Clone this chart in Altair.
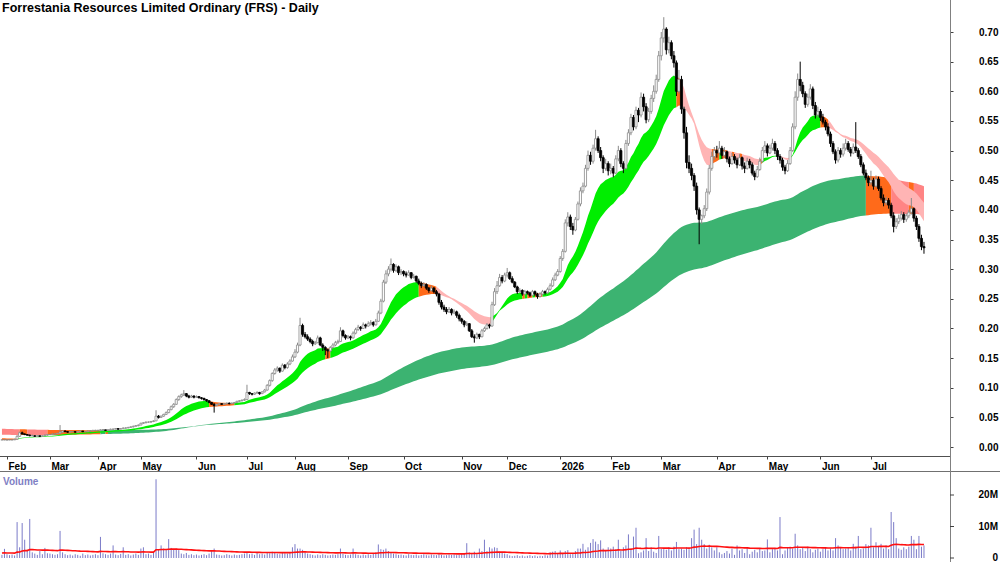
import altair as alt
import pandas as pd

TITLE = "Forrestania Resources Limited Ordinary (FRS) - Daily"

# ---- daily bars, price in units of 0.001 AUD: [open, high, low, close] ----
jan25 = [[12,12,12,12],[12,13,12,12]]
feb25 = [[12,12,11,12],[12,13,12,12],[12,12,12,12],[12,14,12,13],[13,20,13,18],[18,26,17,24],[24,26,21,22],
         [22,23,20,21],[21,22,19,20],[20,21,18,19],[19,21,18,19],[19,20,17,18],[18,20,18,19],[19,19,17,18],
         [18,20,18,19],[19,21,19,20],[20,22,19,21]]
mar25 = [[21,22,20,21],[21,23,21,22],[22,23,21,22],[22,24,22,23],[23,37,23,25],[25,28,24,27],[27,28,25,26],
         [26,27,24,25],[25,27,25,26],[26,27,25,26],[26,26,24,25],[25,27,25,26],[26,28,26,27],[27,27,25,26],
         [26,27,25,26],[26,28,26,27],[27,28,26,27],[27,29,27,28],[28,29,27,28]]
apr25 = [[28,29,27,28],[28,30,28,29],[29,30,28,29],[29,29,27,28],[28,30,28,29],[29,31,29,30],[30,31,29,30],
         [30,32,30,31],[31,31,29,30],[30,32,30,31],[31,33,31,32],[32,33,31,32],[32,34,32,33],[33,35,33,34],
         [34,36,33,35],[35,37,35,36],[36,38,35,37]]
may25 = [[37,41,37,40],[40,42,39,41],[41,43,40,42],[42,43,41,42],[42,44,41,43],[43,45,42,44],[44,62,44,52],
         [52,54,48,50],[50,53,49,52],[52,56,51,55],[55,60,54,58],[58,64,57,63],[63,70,62,68],[68,74,66,72],
         [72,82,71,80],[80,87,78,85],[85,90,83,88],[88,96,86,90],[90,91,84,86],[86,88,82,84],[84,88,83,86],
         [86,87,82,84]]
jun25 = [[84,87,83,85],[85,86,82,83],[83,84,80,82],[82,83,78,80],[80,81,76,78],[78,79,74,75],[75,76,71,72],
         [72,74,58,70],[70,73,69,72],[72,74,71,73],[73,74,71,72],[72,74,72,73],[73,75,72,74],[74,75,72,73],
         [73,75,73,74],[74,76,73,75],[75,78,74,77],[77,79,76,78],[78,80,77,79],[79,82,78,80]]
jul25 = [[80,105,80,92],[92,93,88,90],[90,91,87,89],[89,92,88,91],[91,94,90,92],[92,93,88,90],[90,94,90,93],
         [93,98,92,96],[96,106,95,104],[104,114,102,112],[112,126,110,124],[124,133,122,130],[130,136,127,133],
         [133,134,125,128],[128,141,127,138],[138,140,131,134],[134,143,132,140],[140,148,138,145],[145,156,144,152]]
aug25 = [[152,165,150,160],[160,176,158,172],[172,218,170,205],[205,208,186,190],[190,194,183,186],
         [186,190,179,182],[182,185,175,178],[178,181,170,174],[174,179,172,176],[176,188,175,184],
         [184,186,170,172],[172,175,162,168],[168,170,155,164],[164,166,150,162],[162,170,160,168],
         [168,175,166,172],[172,179,170,176],[176,181,174,178],[178,202,177,196],[196,198,185,188],[188,190,181,184]]
sep25 = [[184,189,182,186],[186,188,180,184],[184,195,183,192],[192,201,190,198],[198,206,196,202],
         [202,204,196,200],[200,210,199,206],[206,208,200,204],[204,212,203,208],[208,214,205,210],
         [210,212,203,206],[206,216,205,212],[212,230,211,226],[226,250,224,246],[246,282,244,278],
         [278,298,275,292],[292,305,288,300],[300,318,296,308],[308,310,294,298],[298,308,295,304],
         [304,306,290,294],[294,300,290,296]]
oct25 = [[296,298,288,292],[292,296,286,290],[290,298,289,294],[294,295,283,286],[286,292,284,288],
         [288,289,277,280],[280,284,273,276],[276,279,268,272],[272,278,270,274],[274,276,265,268],
         [268,270,260,264],[264,272,262,268],[268,270,259,262],[262,265,254,258],[258,260,240,244],
         [244,248,232,236],[236,240,228,232],[232,236,224,228],[228,236,226,232],[232,234,222,226],
         [226,232,224,228],[228,230,218,222],[222,225,212,216]]
nov25 = [[216,218,208,212],[212,214,202,206],[206,212,204,208],[208,209,194,196],[196,199,184,186],
         [186,190,176,184],[184,193,182,190],[190,191,182,186],[186,199,185,196],[196,203,194,200],
         [200,209,198,206],[206,208,200,204],[204,245,203,240],[240,268,238,262],[262,280,258,272],
         [272,292,270,286],[286,290,276,280],[280,294,278,290]]
dec25 = [[290,302,286,294],[294,296,282,284],[284,288,276,278],[278,280,268,270],[270,272,258,262],
         [262,268,260,264],[264,266,255,258],[258,265,256,262],[262,264,257,260],[260,262,253,256],
         [256,265,255,262],[262,264,255,258],[258,260,250,254],[254,261,252,258],[258,265,256,262],
         [262,264,257,260],[260,269,258,266],[266,276,264,272],[272,286,270,282],[282,294,280,290],[290,300,288,296]]
jan26 = [[296,322,294,318],[318,334,314,330],[330,384,328,378],[378,396,372,388],[388,392,366,372],
         [372,378,358,366],[366,388,364,384],[384,414,382,410],[410,438,406,432],[432,446,428,440],
         [440,476,438,470],[470,500,466,492],[492,498,476,482],[482,510,478,504],[504,535,500,520],
         [520,524,496,500],[500,506,482,488],[488,492,462,470],[470,486,466,478],[478,482,458,466]]
feb26 = [[466,478,460,470],[470,474,455,462],[462,492,460,486],[486,508,482,500],[500,504,472,478],
         [478,482,462,470],[470,518,468,512],[512,536,508,530],[530,562,526,556],[556,560,534,540],
         [540,574,536,568],[568,572,548,560],[560,598,556,590],[590,596,566,574],[574,580,546,552],
         [552,572,548,566],[566,594,562,588],[588,610,582,600],[600,628,596,620],[620,668,616,660]]
mar26 = [[660,700,652,690],[690,725,682,705],[705,708,662,670],[670,692,664,682],[682,686,654,660],
         [660,668,640,648],[648,652,592,600],[600,636,596,620],[620,626,562,570],[570,574,520,530],
         [530,540,470,480],[480,492,462,470],[470,478,450,458],[458,462,432,440],[440,446,392,400],
         [400,404,342,384],[384,392,376,390],[390,408,386,402],[402,436,398,430],[430,476,426,470],
         [470,498,466,490],[490,506,484,500]]
apr26 = [[500,508,488,496],[496,516,492,504],[504,508,486,492],[492,506,488,498],[498,500,480,486],
         [486,490,472,478],[478,496,476,490],[490,494,478,484],[484,488,470,476],[476,494,474,488],
         [488,490,468,474],[474,480,462,470],[470,488,468,482],[482,486,470,476],[476,480,458,462],
         [462,466,450,456],[456,474,454,468],[468,488,466,482],[482,506,480,500],[500,516,496,508]]
may26 = [[508,512,490,496],[496,510,494,504],[504,520,500,512],[512,516,494,500],[500,504,484,490],
         [490,494,478,484],[484,488,466,472],[472,476,460,466],[466,484,464,478],[478,506,476,500],
         [500,546,498,540],[540,600,536,590],[590,630,584,620],[620,650,600,610],[610,616,590,596],
         [596,600,572,578],[578,596,574,590],[590,612,586,604],[604,608,570,576],[576,582,554,560],[560,574,556,566]]
jun26 = [[566,570,550,556],[556,562,544,548],[548,552,534,540],[540,546,524,528],[528,532,506,512],
         [512,516,494,498],[498,502,478,484],[484,506,480,500],[500,504,488,494],[494,512,490,504],
         [504,520,500,512],[512,516,498,502],[502,506,490,496],[496,512,494,506],[506,548,496,500],
         [500,504,486,490],[490,494,472,476],[476,480,458,462],[462,468,450,454],[454,458,440,446]]
jul26 = [[446,466,442,450],[450,454,434,440],[440,458,438,452],[452,456,432,436],[436,440,416,420],
         [420,426,406,412],[412,422,408,416],[416,420,402,408],[408,412,386,390],[390,396,362,372],
         [372,386,368,380],[380,392,376,386],[386,398,382,392],[392,396,378,384],[384,394,380,390],
         [390,400,386,396],[396,420,392,402],[402,404,380,386],[386,390,366,372],[372,376,346,352],
         [352,358,332,338],[338,346,326,336]]

# ---- daily volume, units of 100,000 shares ----
vol_jan25 = [10, 29]
vol_feb25 = [12, 9, 11, 8, 114, 34, 111, 58, 26, 124, 18, 14, 10, 22, 12, 32, 15]
vol_mar25 = [14, 12, 10, 12, 86, 18, 12, 9, 11, 8, 12, 10, 7, 14, 9, 11, 8, 10, 12]
vol_apr25 = [9, 67, 15, 12, 10, 14, 40, 11, 9, 13, 34, 10, 12, 8, 11, 14, 10]
vol_may25 = [30, 34, 12, 14, 10, 18, 250, 28, 40, 30, 26, 60, 32, 28, 30, 25, 14, 12, 16, 10, 12, 9]
vol_jun25 = [11, 8, 10, 12, 9, 14, 25, 30, 11, 10, 8, 9, 12, 10, 8, 11, 9, 10, 12, 14]
vol_jul25 = [18, 12, 14, 10, 16, 12, 14, 11, 18, 15, 20, 16, 14, 12, 18, 15, 14, 16, 34]
vol_aug25 = [44, 30, 30, 26, 18, 14, 12, 10, 8, 11, 9, 12, 10, 8, 9, 11, 10, 12, 30, 14, 10]
vol_sep25 = [9, 11, 30, 12, 10, 8, 11, 9, 12, 10, 14, 18, 43, 28, 26, 30, 22, 18, 14, 12, 10, 11]
vol_oct25 = [9, 8, 12, 10, 9, 11, 8, 10, 12, 9, 8, 11, 10, 9, 12, 10, 8, 9, 11, 10, 12, 9, 10]
vol_nov25 = [12, 14, 47, 18, 14, 20, 12, 30, 22, 58, 22, 34, 30, 34, 32, 20, 18, 14]
vol_dec25 = [12, 8, 6, 7, 9, 6, 8, 5, 7, 9, 6, 8, 5, 7, 6, 9, 8, 18, 20, 22, 16]
vol_jan26 = [24, 14, 22, 25, 12, 16, 22, 30, 30, 45, 26, 34, 48, 60, 52, 44, 56, 30, 24, 34]
vol_feb26 = [30, 36, 28, 58, 22, 34, 40, 75, 30, 68, 96, 15, 18, 24, 63, 22, 34, 20, 16, 70]
vol_mar26 = [30, 28, 26, 34, 24, 36, 51, 28, 30, 26, 34, 28, 63, 90, 44, 96, 58, 44, 30, 42, 34, 24]
vol_apr26 = [34, 18, 12, 16, 22, 14, 30, 10, 40, 24, 28, 16, 34, 12, 20, 26, 18, 30, 22, 24]
vol_may26 = [59, 18, 28, 32, 24, 130, 12, 24, 34, 36, 30, 77, 40, 28, 34, 22, 36, 28, 18, 26, 30]
vol_jun26 = [20, 28, 32, 24, 30, 24, 63, 40, 34, 28, 30, 34, 24, 45, 36, 70, 28, 30, 44, 40]
vol_jul26 = [96, 34, 50, 38, 45, 30, 40, 28, 146, 114, 63, 30, 26, 34, 28, 36, 70, 58, 28, 70, 36, 40]

month_labels = ["", "Feb", "Mar", "Apr", "May", "Jun", "Jul", "Aug", "Sep", "Oct", "Nov", "Dec",
                "2026", "Feb", "Mar", "Apr", "May", "Jun", "Jul"]
month_bars = [jan25, feb25, mar25, apr25, may25, jun25, jul25, aug25, sep25, oct25, nov25, dec25,
              jan26, feb26, mar26, apr26, may26, jun26, jul26]
month_vols = [vol_jan25, vol_feb25, vol_mar25, vol_apr25, vol_may25, vol_jun25, vol_jul25, vol_aug25,
              vol_sep25, vol_oct25, vol_nov25, vol_dec25, vol_jan26, vol_feb26, vol_mar26, vol_apr26,
              vol_may26, vol_jun26, vol_jul26]

short_periods = [15, 18, 21, 24, 27, 30]
short_start = [0.012, 0.0125, 0.013, 0.0135, 0.014, 0.015]
long_periods = [140, 155, 170, 185, 200, 230]
long_start = [0.021, 0.023, 0.025, 0.027, 0.029, 0.031]
vol_avg_period = 60
vol_avg_start = 1.6e6

price_ticks = [0.00, 0.05, 0.10, 0.15, 0.20, 0.25, 0.30, 0.35, 0.40, 0.45, 0.50, 0.55, 0.60, 0.65, 0.70]
vol_ticks = [0, 10e6, 20e6]
vol_tick_labels = ["0", "10M", "20M"]

# ---------------- build tables ----------------
rows = []
tick_idx, tick_lab = [], []
i = 0
for lab, bars, vols in zip(month_labels, month_bars, month_vols):
    assert len(bars) == len(vols), lab
    if lab:
        tick_idx.append(i)
        tick_lab.append(lab)
    for (o, h, l, c), v in zip(bars, vols):
        rows.append(dict(i=i, o=o / 1000, h=h / 1000, l=l / 1000, c=c / 1000, vol=v * 1e5))
        i += 1
df = pd.DataFrame(rows)
up = df["c"] >= df["o"]
df["fc"] = ["#ffffff" if u else "#000000" for u in up]
df["sc"] = ["#8a8a8a" if u else "#000000" for u in up]
df["wc"] = ["#8a8a8a" if u else "#000000" for u in up]
df["xl"] = df["i"] - 0.42
df["xr"] = df["i"] + 0.42


def ema(values, period, start):
    a = 2.0 / (period + 1)
    out, v = [], start
    for x in values:
        v = v + a * (x - v)
        out.append(v)
    return out


closes = list(df["c"])
df["vma"] = ema(list(df["vol"]), vol_avg_period, vol_avg_start)


def band(periods, starts, colors):
    """Ribbon between the fastest and slowest average; coloured by whether all averages rise,
    all fall, or are mixed."""
    series = [ema(closes, p, s) for p, s in zip(periods, starts)]
    n = len(closes)
    states = []
    for k in range(n):
        if k == 0:
            d = [s[0] - st for s, st in zip(series, starts)]
        else:
            d = [s[k] - s[k - 1] for s in series]
        if all(x > 0 for x in d):
            states.append("bull")
        elif all(x < 0 for x in d):
            states.append("bear")
        else:
            states.append("mixed")
    recs = []
    seg = 0
    start = 0
    for k in range(1, n + 1):
        if k == n or states[k] != states[start]:
            end = min(k, n - 1)
            for m in range(start, end + 1):
                vals = [s[m] for s in series]
                recs.append(dict(i=m, top=max(vals), bot=min(vals), col=colors[states[start]], seg=seg))
            seg += 1
            start = k
    return pd.DataFrame(recs)


ORANGE = "#ff6a1a"
long_df = band(long_periods, long_start, {"bull": "#3cb371", "mixed": ORANGE, "bear": "#ff8484"})
short_df = band(short_periods, short_start, {"bull": "#00ee00", "mixed": ORANGE, "bear": "#ffb4b4"})

# ---------------- scales / axes ----------------
FONT = "Liberation Sans"
xscale = alt.Scale(domain=[-0.772, 375.3], nice=False, zero=False)
expr = "[" + ",".join("'%s'" % s for s in tick_lab) + "][indexof([" + ",".join(str(t) for t in tick_idx) + "], datum.value)]"
xaxis = alt.Axis(values=tick_idx, labelExpr=expr, orient="bottom", offset=-106, domain=False, grid=False,
                 tickSize=3, tickColor="#404040", labelAlign="left", labelBaseline="top", labelPadding=2,
                 labelOffset=1, labelFont=FONT, labelFontSize=10, labelFontWeight="bold", labelColor="#000000",
                 labelFlush=False, labelOverlap=False, title=None)
pscale = alt.Scale(domain=[0, 0.70], range=[447, 32], nice=False, zero=False)
paxis = alt.Axis(values=price_ticks, format=".2f", orient="right", domain=False, grid=False, tickSize=3,
                 tickColor="#404040", labelAlign="right", labelBaseline="middle", labelPadding=45,
                 labelFont=FONT, labelFontSize=10, labelFontWeight="bold", labelColor="#000000",
                 labelFlush=False, labelOverlap=False, title=None)
vscale = alt.Scale(domain=[0, 20e6], range=[558, 495], nice=False, zero=False)


def X(f):
    return alt.X(f, type="quantitative", scale=xscale, axis=xaxis)


def YP(f):
    return alt.Y(f, type="quantitative", scale=pscale, axis=paxis, stack=None)


def YV(f):
    return alt.Y(f, type="quantitative", scale=vscale, axis=None, stack=None)


long_layer = alt.Chart(long_df).mark_area(strokeWidth=0, opacity=1).encode(
    x=X("i"), y=YP("top"), y2="bot", color=alt.Color("col:N", scale=None), detail="seg:N")
short_layer = alt.Chart(short_df).mark_area(strokeWidth=0, opacity=1).encode(
    x=X("i"), y=YP("top"), y2="bot", color=alt.Color("col:N", scale=None), detail="seg:N")
wicks = alt.Chart(df).mark_rule(strokeWidth=1).encode(
    x=X("i"), y=YP("l"), y2="h", color=alt.Color("wc:N", scale=None))
bodies = alt.Chart(df).mark_rect(strokeWidth=0.8).encode(
    x=X("xl"), x2="xr", y=YP("o"), y2="c",
    fill=alt.Fill("fc:N", scale=None), stroke=alt.Stroke("sc:N", scale=None))

one = pd.DataFrame({"a": [0]})
title_txt = alt.Chart(pd.DataFrame({"t": [TITLE]})).mark_text(
    align="left", baseline="alphabetic", font="Liberation Sans Narrow, Arial Narrow, " + FONT,
    fontSize=12.5, fontWeight="bold", color="#000000").encode(text="t:N", x=alt.value(2), y=alt.value(12))
sep1 = alt.Chart(one).mark_rule(color="#505050", strokeWidth=1).encode(
    x=alt.value(0), x2=alt.value(950), y=alt.value(456.5))
sep2 = alt.Chart(one).mark_rule(color="#707070", strokeWidth=1).encode(
    x=alt.value(0), x2=alt.value(1000), y=alt.value(471.5))
vline = alt.Chart(one).mark_rule(color="#808080", strokeWidth=1).encode(
    x=alt.value(950.5), y=alt.value(0), y2=alt.value(562))

price = alt.layer(long_layer, short_layer, wicks, bodies, title_txt, sep1, sep2, vline)

vbars = alt.Chart(df).mark_rule(strokeWidth=1, color="#7b7bc8").encode(
    x=X("i"), y=YV("vol"), y2=alt.datum(0))
vma = alt.Chart(df).mark_line(strokeWidth=1.6, color="#ff1010").encode(x=X("i"), y=YV("vma"))
vt = pd.DataFrame({"v": vol_ticks, "lab": vol_tick_labels})
vlabels = alt.Chart(vt).mark_text(align="right", baseline="middle", font=FONT, fontSize=10,
                                  fontWeight="bold", color="#000000").encode(
    x=alt.value(998), y=YV("v"), text="lab:N")
vticks = alt.Chart(vt).mark_rule(color="#404040").encode(x=alt.value(950), x2=alt.value(954), y=YV("v"))
vol_title = alt.Chart(pd.DataFrame({"t": ["Volume"]})).mark_text(
    align="left", baseline="alphabetic", font=FONT, fontSize=10, fontWeight="bold", color="#8080c4").encode(
    text="t:N", x=alt.value(3), y=alt.value(485))

volume = alt.layer(vbars, vma, vlabels, vticks, vol_title)

chart = alt.layer(price, volume).resolve_scale(y="independent").properties(
    width=950, height=562,
    padding={"left": 0, "top": 0, "right": 50, "bottom": 0},
    autosize=alt.AutoSizeParams(type="none"),
    background="#ffffff",
).configure_view(stroke=None)

chart.save("out.html", embed_options={"renderer": "svg", "actions": False})
